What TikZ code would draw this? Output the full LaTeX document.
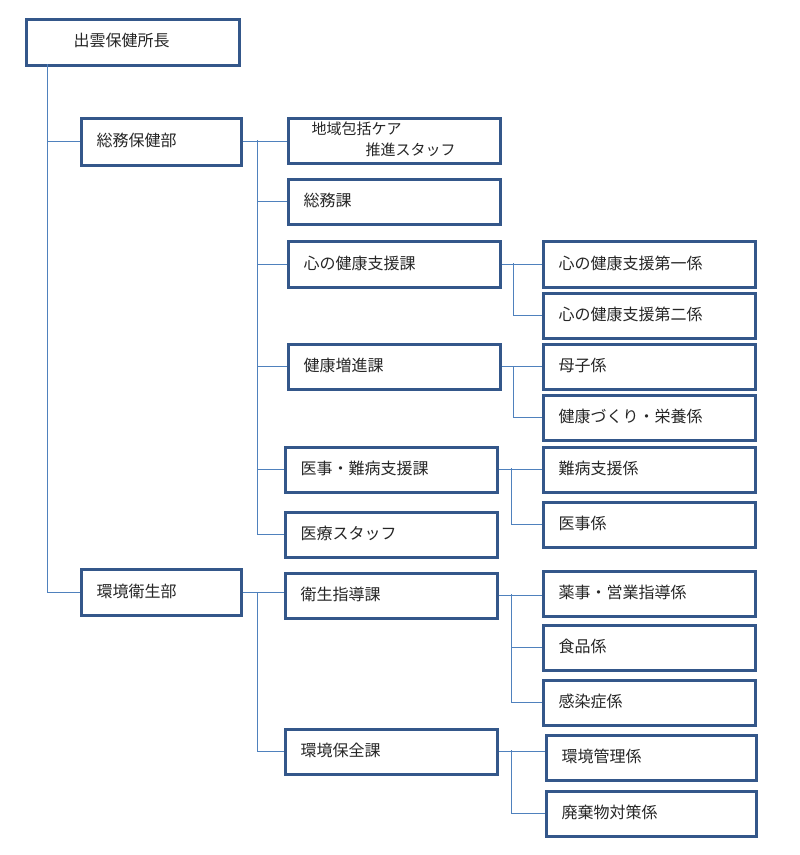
\documentclass[tikz,border=0pt]{standalone}
\usepackage{fontspec}
\setmainfont{Noto Sans CJK JP}
\begin{document}
\begin{tikzpicture}[x=1pt,y=-1pt,
 box/.style={draw=bordc,line width=2.6pt,minimum height=45pt,minimum width=212pt,anchor=north west,inner sep=0pt},
 ln/.style={draw=linec,line width=0.8pt},
 tx/.style={anchor=west,font=\fontsize{16}{18}\selectfont,text=black!85}]
\definecolor{bordc}{HTML}{34578A}
\definecolor{linec}{HTML}{4F81BD}
\useasboundingbox (0,0) rectangle (800,855);
\newcommand\bx[6]{\node[box,minimum width=#4-#2,minimum height=#5-#3] (#1) at (#2,#3) {};\node[tx] at (#2+13,{(#3+#5)/2}) {#6};}
\node[box,minimum width=213,minimum height=46] (top) at (25,18) {};
\node[tx] at (70,41) {出雲保健所長};
\bx{sb}{80}{117}{240}{164}{総務保健部}
\bx{kb}{80}{568}{240}{614}{環境衛生部}
\node[box,minimum width=212,minimum height=45] (chiki) at (287,117) {};
\node[tx,font=\fontsize{15}{17}\selectfont] at (308,129) {地域包括ケア};
\node[tx,font=\fontsize{15}{17}\selectfont] at (362,150) {推進スタッフ};
\bx{som}{287}{178}{499}{223}{総務課}
\bx{kok}{287}{240}{499}{286}{心の健康支援課}
\bx{ken}{287}{343}{499}{388}{健康増進課}
\bx{iji}{284}{446}{496}{491}{医事・難病支援課}
\bx{iry}{284}{511}{496}{556}{医療スタッフ}
\bx{eis}{284}{572}{496}{617}{衛生指導課}
\bx{kan}{284}{728}{496}{773}{環境保全課}
\bx{k1}{542}{240}{754}{286}{心の健康支援第一係}
\bx{k2}{542}{292}{754}{337}{心の健康支援第二係}
\bx{bos}{542}{343}{754}{388}{母子係}
\bx{kz}{542}{394}{754}{439}{健康づくり・栄養係}
\bx{nan}{542}{446}{754}{491}{難病支援係}
\bx{ij}{542}{501}{754}{546}{医事係}
\bx{yak}{542}{570}{754}{615}{薬事・営業指導係}
\bx{sho}{542}{624}{754}{669}{食品係}
\bx{kns}{542}{679}{754}{724}{感染症係}
\bx{kkr}{545}{734}{755}{779}{環境管理係}
\bx{hai}{545}{790}{755}{835}{廃棄物対策係}
% main trunk
\coordinate (t0) at (47,64);
\draw[ln] (t0) |- (sb.west);
\draw[ln] (t0) |- (kb.west);
% 総務保健部 bus
\coordinate (b1) at (257,140);
\draw[ln] (sb.east) -- (chiki.west |- sb.east);
\draw[ln] (b1) |- (iry.west);
\draw[ln] (b1 |- som.west) -- (som.west);
\draw[ln] (b1 |- kok.west) -- (kok.west);
\draw[ln] (b1 |- ken.west) -- (ken.west);
\draw[ln] (b1 |- iji.west) -- (iji.west);
% 環境衛生部 bus
\coordinate (b2) at (257,592);
\draw[ln] (kb.east) -- (eis.west |- kb.east);
\draw[ln] (b2) |- (kan.west);
% sub buses
\coordinate (c1) at (513,263);
\draw[ln] (kok.east) -- (k1.west |- kok.east); \draw[ln] (c1) |- (k2.west);
\coordinate (c2) at (513,366);
\draw[ln] (ken.east) -- (bos.west |- ken.east); \draw[ln] (c2) |- (kz.west);
\coordinate (c3) at (511,468);
\draw[ln] (iji.east) -- (nan.west |- iji.east); \draw[ln] (c3) |- (ij.west);
\coordinate (c4) at (511,594);
\draw[ln] (eis.east) -- (yak.west |- eis.east); \draw[ln] (c4) |- (sho.west); \draw[ln] (c4) |- (kns.west);
\coordinate (c5) at (511,750);
\draw[ln] (kan.east) -- (kkr.west |- kan.east); \draw[ln] (c5) |- (hai.west);
\end{tikzpicture}
\end{document}
